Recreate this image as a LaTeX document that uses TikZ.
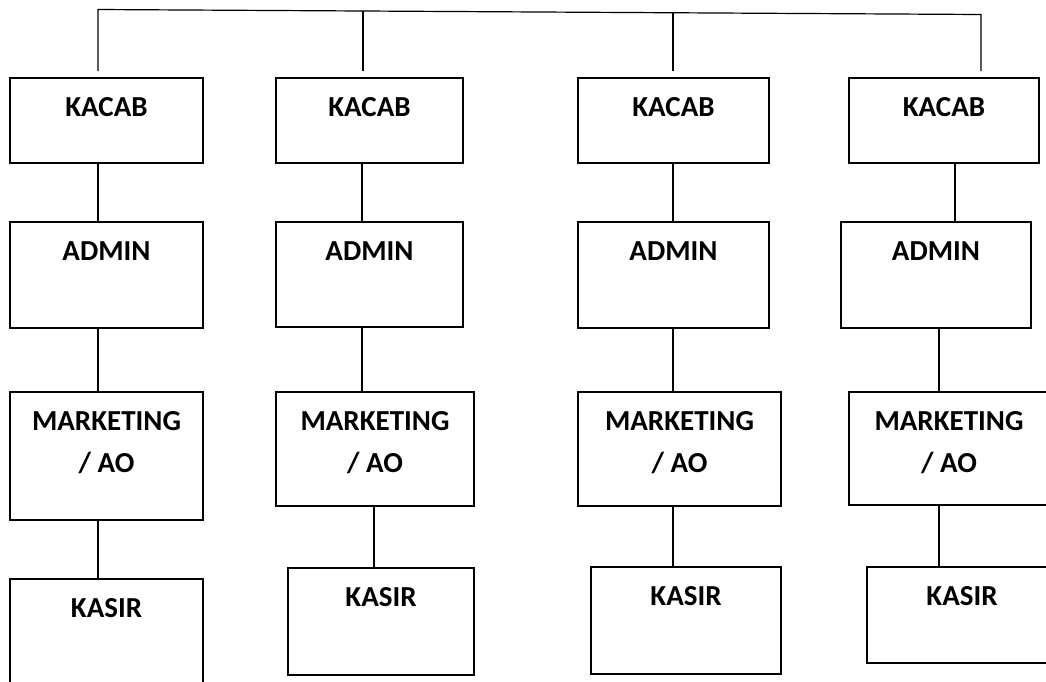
\documentclass[tikz,border=0pt]{standalone}
\usepackage{fontspec}
\setmainfont{Carlito}

\begin{document}
\begin{tikzpicture}[x=1pt,y=-1pt]
    \tikzstyle{unit}=[draw=black, line width=1.8pt, inner sep=0pt, anchor=north, align=center, text height=39pt, font=\fontsize{29pt}{42pt}\selectfont\bfseries]
    \tikzstyle{unit2}=[unit, text height=81pt]
    \tikzstyle{link}=[draw=black, line width=1.2pt]

    \useasboundingbox (0,0) rectangle (1046,681);

    % kolom 1
    \node[unit, minimum width=193pt, text depth=46pt] (K-1) at (106.5,77) {KACAB};
    \node[unit, minimum width=193pt, text depth=67pt] (A-1) at (106.5,221) {ADMIN};
    \node[unit2, minimum width=193pt, text depth=47pt] (M-1) at (106.5,391) {MARKETING\\/ AO};
    \node[unit, minimum width=193pt, text depth=83pt] (S-1) at (106.5,578) {KASIR};

    % kolom 2
    \node[unit, minimum width=187pt, text depth=46pt] (K-2) at (369.5,77) {KACAB};
    \node[unit, minimum width=187pt, text depth=66pt] (A-2) at (369.5,221) {ADMIN};
    \node[unit2, minimum width=198pt, text depth=33pt] (M-2) at (375,391) {MARKETING\\/ AO};
    \node[unit, minimum width=186pt, text depth=68pt] (S-2) at (381,567) {KASIR};

    % kolom 3
    \node[unit, minimum width=191pt, text depth=46pt] (K-3) at (673.5,77) {KACAB};
    \node[unit, minimum width=191pt, text depth=67pt] (A-3) at (673.5,221) {ADMIN};
    \node[unit2, minimum width=203pt, text depth=33pt] (M-3) at (679.5,391) {MARKETING\\/ AO};
    \node[unit, minimum width=190pt, text depth=68pt] (S-3) at (686,566) {KASIR};

    % kolom 4
    \node[unit, minimum width=190pt, text depth=46pt] (K-4) at (944,77) {KACAB};
    \node[unit, minimum width=190pt, text depth=67pt] (A-4) at (936,221) {ADMIN};
    \node[unit2, minimum width=200pt, text depth=32pt] (M-4) at (949,391) {MARKETING\\/ AO};
    \node[unit, minimum width=190pt, text depth=57pt] (S-4) at (962,566) {KASIR};

    % garis atas
    \coordinate (B-1) at (98,9.5);
    \coordinate (B-2) at (363,11.2);
    \coordinate (B-3) at (673,13);
    \coordinate (B-4) at (981,14.5);
    \coordinate (T-1) at (98,71);
    \coordinate (T-2) at (363,71);
    \coordinate (T-3) at (673,71);
    \coordinate (T-4) at (981,71);
    \draw[link] (T-1) -- (B-1) -- (B-4) -- (T-4);
    \draw[link] (B-2) -- (T-2);
    \draw[link] (B-3) -- (T-3);

    % posisi garis penghubung
    \coordinate (X-1) at (98,0);
    \coordinate (X-2) at (362,0);
    \coordinate (X-2b) at (374,0);
    \coordinate (X-3) at (673,0);
    \coordinate (X-4) at (955,0);
    \coordinate (X-4b) at (939,0);

    \draw[link] (K-1.south -| X-1) -- (A-1.north -| X-1);
    \draw[link] (A-1.south -| X-1) -- (M-1.north -| X-1);
    \draw[link] (M-1.south -| X-1) -- (S-1.north -| X-1);

    \draw[link] (K-2.south -| X-2) -- (A-2.north -| X-2);
    \draw[link] (A-2.south -| X-2) -- (M-2.north -| X-2);
    \draw[link] (M-2.south -| X-2b) -- (S-2.north -| X-2b);

    \draw[link] (K-3.south -| X-3) -- (A-3.north -| X-3);
    \draw[link] (A-3.south -| X-3) -- (M-3.north -| X-3);
    \draw[link] (M-3.south -| X-3) -- (S-3.north -| X-3);

    \draw[link] (K-4.south -| X-4) -- (A-4.north -| X-4);
    \draw[link] (A-4.south -| X-4b) -- (M-4.north -| X-4b);
    \draw[link] (M-4.south -| X-4b) -- (S-4.north -| X-4b);
\end{tikzpicture}
\end{document}
